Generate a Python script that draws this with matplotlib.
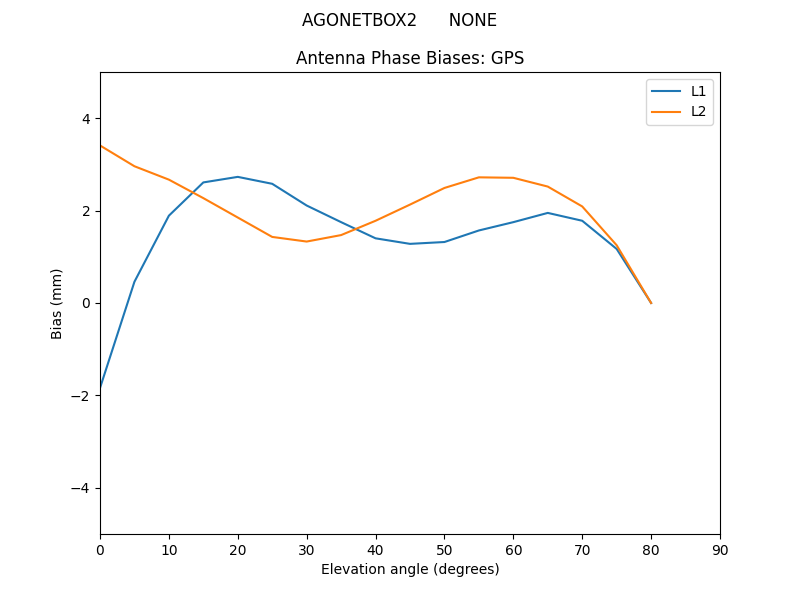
import numpy as np
import matplotlib
matplotlib.use('Agg')
import matplotlib.pyplot as plt

# elevation angles and biases (mm)
elev = np.arange(0, 85, 5)
L1 = [-1.84, 0.46, 1.89, 2.61, 2.73, 2.58, 2.11, 1.75, 1.40, 1.28,
      1.32, 1.57, 1.75, 1.95, 1.78, 1.17, 0.0]
L2 = [3.41, 2.96, 2.67, 2.27, 1.85, 1.43, 1.33, 1.47, 1.78, 2.13,
      2.49, 2.72, 2.71, 2.52, 2.09, 1.25, 0.0]

fig = plt.figure(figsize=(8, 6), dpi=100)
ax = fig.add_subplot(111)
ax.plot(elev, L1, label='L1')
ax.plot(elev, L2, label='L2')
ax.set_xlim(0, 90)
ax.set_ylim(-5, 5)
ax.set_xlabel('Elevation angle (degrees)')
ax.set_ylabel('Bias (mm)')
ax.set_title('Antenna Phase Biases: GPS')
fig.suptitle('AGONETBOX2      NONE')
ax.legend(loc='best')
fig.savefig('out.png')
